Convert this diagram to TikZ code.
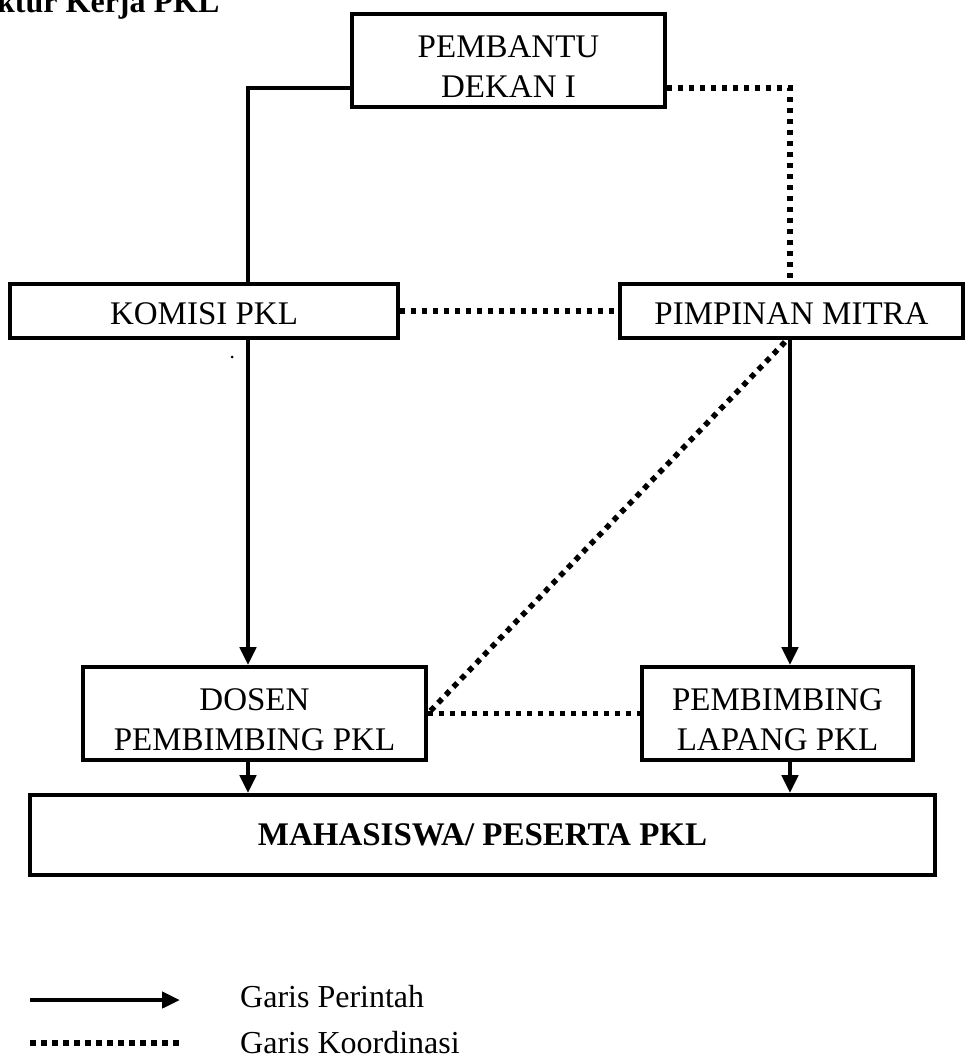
\documentclass[tikz,border=0pt]{standalone}
\usepackage{fontspec}
\setmainfont{Liberation Serif}
\usetikzlibrary{arrows.meta}
\begin{document}
\begin{tikzpicture}[x=1pt,y=-1pt,
  box/.style={draw, line width=3.8pt, minimum width=#1, inner sep=0pt},
  boxtext/.style={font=\fontsize{33}{40}\selectfont, align=center, inner sep=0pt, yshift=-6pt},
  cmd/.style={line width=4.5pt, -{Triangle[length=18pt,width=16pt]}},
  cmdline/.style={line width=4.5pt},
  coord/.style={line width=5.5pt, dash pattern=on 5.5pt off 5.5pt},
  lbl/.style={font=\fontsize{32}{36}\selectfont, inner sep=0pt}]
\useasboundingbox (0,0) rectangle (965,1059);
% title (cut off at the top left)
\node[anchor=base west, inner sep=0pt, font=\fontsize{32}{36}\selectfont\bfseries] (title) at (-3,13) {ktur Kerja PKL};
% boxes
\node[box=313pt, minimum height=93pt, label={[boxtext]center:{PEMBANTU\\DEKAN I}}] (pd) at (508.5,60.5) {};
\node[box=388pt, minimum height=54pt, label={[boxtext, yshift=3pt]center:{KOMISI PKL}}] (kom) at (204,311) {};
\node[box=343pt, minimum height=54pt, label={[boxtext, yshift=3pt]center:{PIMPINAN MITRA}}] (pim) at (791.5,311) {};
\node[box=343pt, minimum height=93pt, label={[boxtext]center:{DOSEN\\PEMBIMBING PKL}}] (dos) at (254.5,713.5) {};
\node[box=271pt, minimum height=93pt, label={[boxtext]center:{PEMBIMBING\\LAPANG PKL}}] (lap) at (777.5,713.5) {};
\node[box=905pt, minimum height=80pt, label={[boxtext, yshift=6pt, font=\fontsize{33}{40}\selectfont\bfseries]center:{MAHASISWA/ PESERTA PKL}}] (mhs) at (482.5,835) {};
% corner coordinates
\coordinate (c1) at (248,88);
\coordinate (c2) at (790,88);
% command lines
\draw[cmdline] (pd.west |- c1) -- (c1) -- (c1 |- kom.north);
\draw[cmd] (kom.south -| c1) -- (dos.north -| c1);
\draw[cmd] (pim.south -| c2) -- (lap.north -| c2);
\draw[cmd] (dos.south -| c1) -- (mhs.north -| c1);
\draw[cmd] (lap.south -| c2) -- (mhs.north -| c2);
% coordination lines
\draw[coord] (pd.east |- c2) -- (c2) -- (c2 |- pim.north);
\draw[coord] (kom.east) -- (pim.west);
\draw[coord] (dos.east) -- (lap.west);
\coordinate (d1) at (785,342);
\draw[coord] (d1) -- (dos.east);
% stray dot
\fill (232,357) circle (1.5pt);
% legend
\coordinate (l1) at (30,1000);
\coordinate (l2) at (180,1000);
\coordinate (l3) at (30,1043);
\coordinate (l4) at (180,1043);
\draw[cmd] (l1) -- (l2);
\draw[coord] (l3) -- (l4);
\node[lbl, anchor=west] (t1) at (240,997) {Garis Perintah};
\node[lbl, anchor=west] (t2) at (240,1043) {Garis Koordinasi};
\end{tikzpicture}
\end{document}
